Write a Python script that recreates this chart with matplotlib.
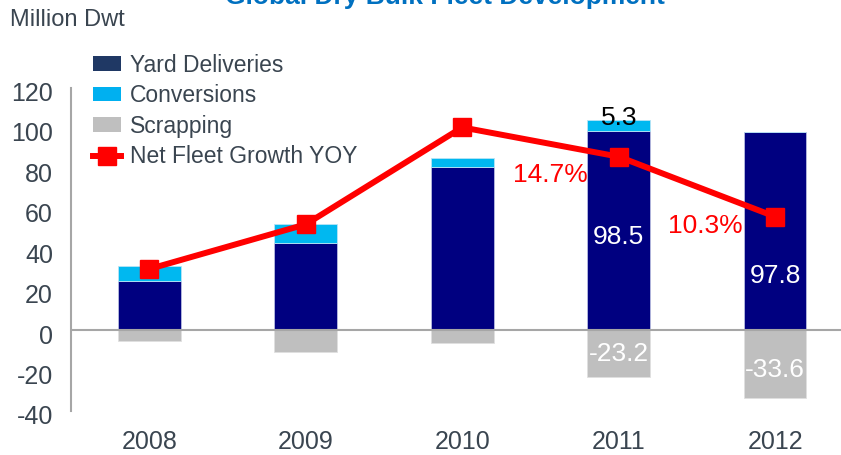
import matplotlib.pyplot as plt
from matplotlib.patches import Patch
from matplotlib.lines import Line2D
from matplotlib.transforms import ScaledTranslation

plt.rcParams['font.family'] = ['Liberation Sans', 'DejaVu Sans']
plt.rcParams['axes.unicode_minus'] = False

years = ['2008', '2009', '2010', '2011', '2012']
yard = [24.4, 43.2, 80.5, 98.5, 97.8]
conversions = [7.4, 9.3, 4.5, 5.3, 0.0]
scrapping = [-5.3, -10.7, -6.6, -23.2, -33.6]
net_growth = [30.2, 52.3, 100.3, 85.8, 56.1]

txt = '#3a4550'
x = list(range(len(years)))

fig = plt.figure(figsize=(8.41, 4.55), dpi=100)
ax = fig.add_axes([0.0844, 0.0971, 0.9304, 0.7104])

ax.bar(x, yard, width=0.4, color='#000080', edgecolor='#b8bde0', linewidth=0.6, zorder=2)
ax.bar(x, conversions, width=0.4, bottom=yard, color='#00b8f0', edgecolor='#b8e4f5', linewidth=0.6, zorder=2)
ax.bar(x, scrapping, width=0.4, color='#bfbfbf', edgecolor='#e0e0e0', linewidth=0.6, zorder=2)
ax.plot(x, net_growth, color='#ff0000', lw=4.3, marker='s', markersize=13.5, zorder=4)

ax.axhline(0, color='#a6a6a6', lw=1.5, zorder=3)

ax.set_xlim(-0.5, 4.5)
ax.set_ylim(-40, 120)
ax.set_yticks(range(-40, 121, 20))
ax.set_xticks(x)
ax.set_xticklabels(years)
ax.tick_params(axis='both', length=0, labelsize=18, colors=txt)
ax.tick_params(axis='y', pad=13)
ax.tick_params(axis='x', pad=14)
for s in ['top', 'right', 'bottom']:
    ax.spines[s].set_visible(False)
ax.spines['left'].set_color('#a6a6a6')
ax.spines['left'].set_linewidth(1.5)
# y labels sit a little low in the original
off = ScaledTranslation(0, -4 / 100, fig.dpi_scale_trans)
for lab in ax.get_yticklabels():
    lab.set_transform(lab.get_transform() + off)

# data labels
ax.text(3, 105, '5.3', ha='center', va='center', fontsize=19, color='black', zorder=5)
ax.text(3, 46, '98.5', ha='center', va='center', fontsize=19, color='white', zorder=5)
ax.text(4, 26.7, '97.8', ha='center', va='center', fontsize=19, color='white', zorder=5)
ax.text(3, -11.9, '-23.2', ha='center', va='center', fontsize=19, color='white', zorder=5)
ax.text(4, -19.8, '-33.6', ha='center', va='center', fontsize=19, color='white', zorder=5)
ax.text(2.565, 76.7, '14.7%', ha='center', va='center', fontsize=19, color='#ff0000', zorder=5)
ax.text(3.556, 51.5, '10.3%', ha='center', va='center', fontsize=19, color='#ff0000', zorder=5)

handles = [
    Patch(facecolor='#1f3864', edgecolor='none'),
    Patch(facecolor='#00b0f0', edgecolor='none'),
    Patch(facecolor='#bfbfbf', edgecolor='none'),
    Line2D([], [], color='#ff0000', lw=4.3, marker='s', markersize=13.5),
]
labels = ['Yard Deliveries', 'Conversions', 'Scrapping', 'Net Fleet Growth YOY']
leg = fig.legend(handles, labels, loc='upper left', bbox_to_anchor=(0.1106, 0.882),
                 frameon=False, fontsize=16.5, labelspacing=0.33, handlelength=1.2,
                 handleheight=0.6, handletextpad=0.42, borderpad=0, borderaxespad=0)
for t in leg.get_texts():
    t.set_color(txt)

fig.text(10 / 841, 1 - 20 / 455, 'Million Dwt', fontsize=17, color=txt, ha='left', va='center')
fig.text(445 / 841, 1 - 4 / 455, 'Global Dry Bulk Fleet Development', fontsize=19,
         fontweight='bold', color='#0070c0', ha='center', va='baseline')

fig.savefig('out.png', dpi=100)
